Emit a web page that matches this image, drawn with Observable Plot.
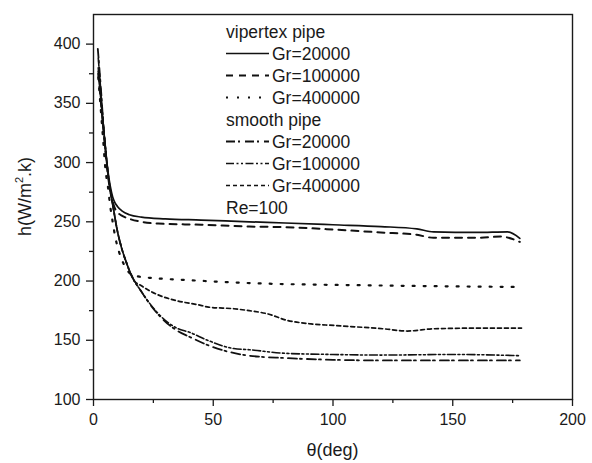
<!DOCTYPE html>
<html>
<head>
<meta charset="utf-8">
<script src="https://cdn.jsdelivr.net/npm/d3@7"></script>
<script src="https://cdn.jsdelivr.net/npm/@observablehq/plot@0.6"></script>
<style>
  html, body { margin: 0; padding: 0; background: #fff; }
  #chart svg { display: block; }
</style>
</head>
<body>
<div id="chart"></div>
<script>
// ---- data (theta in deg, h in W/m2.K) ----
const xTicks = [0, 50, 100, 150, 200];
const xMinorTicks = [25, 75, 125, 175];
const yTicks = [100, 150, 200, 250, 300, 350, 400];
const yMinorTicks = [125, 175, 225, 275, 325, 375];

const vipertex20000 = [[2,377],[3,355],[4,333],[5,312],[6,293],[7,280],[8,271],[9,266],[10,263],[12,259],[15,256],[20,254],[30,252.5],[45,251.5],[65,250],[80,249],[100,247.5],[120,246],[135,244],[142,241.5],[160,241],[173,241.5],[178,236]];
const vipertex100000 = [[2,375],[3,353],[4,331],[5,310],[6,290],[7,276],[8,267],[9,261],[10,258],[12,255],[15,252.5],[20,250],[27,248.5],[45,247.5],[65,246],[80,245.5],[100,243.5],[120,241],[135,239],[142,236.5],[160,236.5],[170,237.5],[178,233]];
const vipertex400000 = [[2,372],[3,346],[4,320],[5,294],[6,280],[7,263],[8,250],[9,238],[10.6,225],[12.7,214],[15.5,206],[19.6,203.5],[25,202.5],[41,200.6],[65,198.3],[114,196.4],[150,195.5],[177,195]];
const smooth20000 = [[1.8,396],[3,365],[4.3,327],[6.4,285],[8,265],[9.9,243],[12,226],[13.4,217.5],[16.9,200.6],[19.7,192],[22.4,183.7],[28,169.6],[35,158],[40,153],[47.6,146],[55,141],[65,137],[80,135],[100,133.5],[120,133],[150,133],[178,133]];
const smooth100000 = [[2,388],[3,362],[4.3,327],[6.4,285],[8,265],[9.9,243],[12,226],[13.4,217.5],[16.9,200.6],[19.7,192],[22.4,184],[28,170.5],[35,160],[40,156.8],[47.6,150],[58.6,143],[65,142],[80,139],[100,138],[120,137.5],[150,138],[178,137]];
const smooth400000 = [[2,380],[3,357],[4.3,327],[6.4,285],[8,265],[9.9,243],[12,226],[13.4,217.5],[16.9,200.6],[20,196],[23.2,192],[28,187.5],[34.3,183.6],[44.8,179.5],[48,178],[58.6,176.6],[65,175],[72.5,172.4],[80.9,166.8],[90,164],[100.3,162.5],[121,159.7],[131,157.8],[142,159.7],[163,160.3],[178.7,160.3]];

const seriesData = [vipertex20000, vipertex100000, vipertex400000, smooth20000, smooth100000, smooth400000];
const seriesLabels = ["Gr=20000", "Gr=100000", "Gr=400000", "Gr=20000", "Gr=100000", "Gr=400000"];
const groupLabels = ["vipertex pipe", "smooth pipe"];
const noteLabel = "Re=100";
const xLabel = "θ(deg)";
const yLabelParts = ["h(W/m", "2", ".k)"];

// ---- styles (kept apart from the data) ----
const seriesDash = [null, "7,6", "2,9", "9,3,2,5", "8,2.5,2,2.5,2,2.5", "4,3"];
const seriesWidth = [1.7, 2, 2.2, 1.8, 1.6, 1.7];
const FONT = "'Liberation Sans', Arial, Helvetica, sans-serif";

const rows = seriesData.map((arr, i) => arr.map(([theta, h]) => ({theta, h, s: i})));

const chart = Plot.plot({
  width: 592,
  height: 463,
  marginLeft: 93,
  marginRight: 20,
  marginTop: 14,
  marginBottom: 64,
  x: {domain: [0, 200]},
  y: {domain: [100, 425]},
  style: {fontFamily: FONT, fontSize: "16px", color: "#1a1a1a", background: "#fff", overflow: "visible"},
  marks: [
    ...rows.map((r, i) => Plot.line(r, {
      x: "theta", y: "h", curve: "monotone-x",
      stroke: "#111", strokeWidth: seriesWidth[i],
      strokeDasharray: seriesDash[i] ?? undefined
    })),
    Plot.axisX({ticks: xMinorTicks, tickSize: 4, tickFormat: () => "", label: null, strokeWidth: 1.3}),
    Plot.axisX({ticks: xTicks, tickSize: 7, tickPadding: 7, label: null, strokeWidth: 1.3, fontSize: 16}),
    Plot.axisY({ticks: yMinorTicks, tickSize: 4, tickFormat: () => "", label: null, strokeWidth: 1.3}),
    Plot.axisY({ticks: yTicks, tickSize: 7, tickPadding: 6, label: null, strokeWidth: 1.3, fontSize: 16}),
    Plot.frame({stroke: "#1a1a1a", strokeWidth: 1.4})
  ]
});

document.getElementById("chart").appendChild(chart);

// ---- axis titles and in-plot legend (layout only) ----
const svg = d3.select(chart);
const xs = chart.scale("x"), ys = chart.scale("y");
const plotLeft = xs.range[0], plotRight = xs.range[1];
const plotTop = ys.range[1], plotBottom = ys.range[0];

svg.append("text")
  .attr("x", (plotLeft + plotRight) / 2).attr("y", 450)
  .attr("text-anchor", "middle").attr("dy", "0.35em")
  .attr("font-family", FONT).attr("font-size", 18).attr("fill", "#1a1a1a")
  .text(xLabel);

const yt = svg.append("text")
  .attr("transform", `translate(31,${(plotTop + plotBottom) / 2 - 10}) rotate(-90)`)
  .attr("text-anchor", "middle")
  .attr("font-family", FONT).attr("font-size", 18).attr("fill", "#1a1a1a");
yt.append("tspan").text(yLabelParts[0]);
yt.append("tspan").attr("font-size", 11).attr("dy", -8).text(yLabelParts[1]);
yt.append("tspan").attr("dy", 8).text(yLabelParts[2]);

const lg = svg.append("g").attr("font-family", FONT).attr("font-size", 17.5)
  .attr("fill", "#1a1a1a").attr("text-anchor", "start");
const lx0 = 226, lx1 = 269, tx = 272, rowY0 = 31.5, rowH = 22;
const legendRows = [
  {type: "head", text: groupLabels[0]},
  {type: "item", s: 0}, {type: "item", s: 1}, {type: "item", s: 2},
  {type: "head", text: groupLabels[1]},
  {type: "item", s: 3}, {type: "item", s: 4}, {type: "item", s: 5},
  {type: "head", text: noteLabel}
];
legendRows.forEach((r, i) => {
  const y = rowY0 + i * rowH;
  if (r.type === "head") {
    lg.append("text").attr("x", lx0).attr("y", y).attr("dy", "0.35em").text(r.text);
  } else {
    const ln = lg.append("line").attr("x1", lx0).attr("x2", lx1).attr("y1", y).attr("y2", y)
      .attr("stroke", "#111").attr("stroke-width", seriesWidth[r.s]);
    if (seriesDash[r.s]) ln.attr("stroke-dasharray", seriesDash[r.s]);
    lg.append("text").attr("x", tx).attr("y", y).attr("dy", "0.35em").text(seriesLabels[r.s]);
  }
});
</script>
</body>
</html>
